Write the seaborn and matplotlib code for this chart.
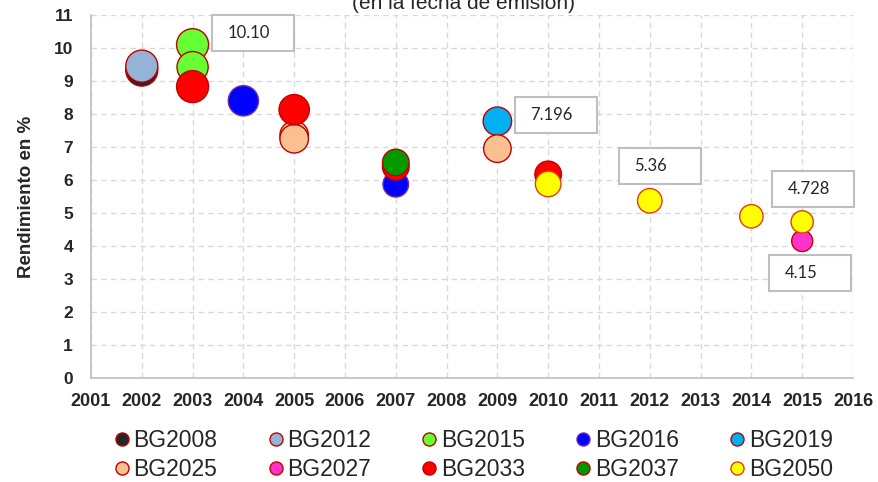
import pandas as pd
import matplotlib.pyplot as plt
import seaborn as sns
from matplotlib.lines import Line2D
from matplotlib.patches import Rectangle

# Datos: rendimiento en la fecha de emisión
bonos = ['BG2008', 'BG2012', 'BG2015', 'BG2015', 'BG2016', 'BG2016', 'BG2019',
         'BG2025', 'BG2025', 'BG2025', 'BG2027', 'BG2033', 'BG2033', 'BG2033',
         'BG2033', 'BG2037', 'BG2050', 'BG2050', 'BG2050', 'BG2050']
anios = [2002, 2002, 2003, 2003, 2004, 2007, 2009,
         2005, 2005, 2009, 2015, 2003, 2005, 2007,
         2010, 2007, 2010, 2012, 2014, 2015]
rendimientos = [9.33, 9.45, 10.10, 9.42, 8.40, 5.87, 7.78,
                7.36, 7.25, 6.95, 4.15, 8.83, 8.13, 6.40,
                6.17, 6.53, 5.88, 5.37, 4.90, 4.73]
# tamaño relativo de cada burbuja
tamanos = [32, 32, 32, 31, 30, 25, 28,
           28, 28, 27, 21, 32, 30, 26,
           26, 26, 25, 24, 23, 22]

orden_bonos = ['BG2008', 'BG2012', 'BG2015', 'BG2016', 'BG2019',
               'BG2025', 'BG2027', 'BG2033', 'BG2037', 'BG2050']
colores = ['#262626', '#95B3D7', '#66FF33', '#0000FF', '#00B0F0',
           '#FAC090', '#FF33CC', '#FF0000', '#009900', '#FFFF00']
bordes = ['#C00000', '#C00000', '#C00000', '#7030A0', '#C00000',
          '#C00000', '#C00000', '#C00000', '#C00000', '#E0400A']

etiquetas = ['10.10', '7.196', '5.36', '4.728', '4.15']
# esquina inferior izquierda de cada recuadro (anio, rendimiento)
pos_etiquetas = [(2003.38, 9.91), (2009.35, 7.42), (2011.39, 5.88),
                 (2014.41, 5.18), (2014.35, 2.64)]

sns.set_style('white')
plt.rcParams['font.family'] = ['Liberation Sans', 'DejaVu Sans']

df = pd.DataFrame({'Anio': anios, 'Rendimiento': rendimientos,
                   'Bono': bonos, 'Tamano': tamanos})
df['orden'] = df['Bono'].map({b: i for i, b in enumerate(orden_bonos)})
df = df.sort_values('orden', kind='stable')

paleta = dict(zip(orden_bonos, colores))
borde_de = dict(zip(orden_bonos, bordes))

fig = plt.figure(figsize=(8.79, 4.82), dpi=100)
ax = fig.add_axes([0.1035, 0.2158, 0.8669, 0.7531])

sns.scatterplot(data=df, x='Anio', y='Rendimiento', hue='Bono',
                hue_order=orden_bonos, palette=paleta,
                size='Tamano', sizes=(229, 531), size_norm=(21, 32),
                edgecolor=[borde_de[b] for b in df['Bono']], linewidth=1,
                alpha=1, legend=False, ax=ax, zorder=3)

ax.set_xlim(2001, 2016)
ax.set_ylim(0, 11)
ax.set_xticks(range(2001, 2017))
ax.set_yticks(range(0, 12))
ax.set_xticklabels([str(a) for a in range(2001, 2017)], fontweight='bold', fontsize=13)
ax.set_yticklabels([str(v) for v in range(0, 12)], fontweight='bold', fontsize=12.5)
ax.tick_params(axis='x', length=0, pad=11)
ax.tick_params(axis='y', length=0, pad=13)
ax.set_xlabel('')
ax.set_ylabel('Rendimiento en %', fontweight='bold', fontsize=13.5, labelpad=13)

ax.grid(True, linestyle=(0, (4, 3)), color='#D9D9D9', linewidth=1)
ax.set_axisbelow(True)
for lado in ['top', 'right']:
    ax.spines[lado].set_visible(False)
for lado in ['left', 'bottom']:
    ax.spines[lado].set_color('#BFBFBF')
    ax.spines[lado].set_linewidth(1.2)

for texto, (x0, y0) in zip(etiquetas, pos_etiquetas):
    caja = Rectangle((x0, y0), 1.61, 1.09, facecolor='white', edgecolor='#BFBFBF',
                     linewidth=1.5, zorder=4, clip_on=False)
    ax.add_patch(caja)
    ax.text(x0 + 0.3, y0 + 0.545, texto, fontsize=12, va='center', ha='left',
            family=['Lato', 'DejaVu Sans'], zorder=5, clip_on=False)

fig.text(0.527, 1 - 9 / 482, '(en la fecha de emisión)', fontsize=15,
         ha='center', va='baseline')

manejadores = [Line2D([], [], marker='o', linestyle='', markersize=9.4,
                      markerfacecolor=c, markeredgecolor=e, markeredgewidth=1)
               for c, e in zip(colores, bordes)]
# matplotlib llena por columnas: reordenar para que quede por filas
idx = [0, 5, 1, 6, 2, 7, 3, 8, 4, 9]
fig.legend([manejadores[i] for i in idx], [orden_bonos[i] for i in idx],
           loc='center', ncol=5, bbox_to_anchor=(0.539, 1 - 455 / 482),
           frameon=False, fontsize=16.5, handletextpad=0.2, columnspacing=2.25,
           labelspacing=0.28, handlelength=0.6, borderpad=0)

plt.savefig('out.png', dpi=100)
